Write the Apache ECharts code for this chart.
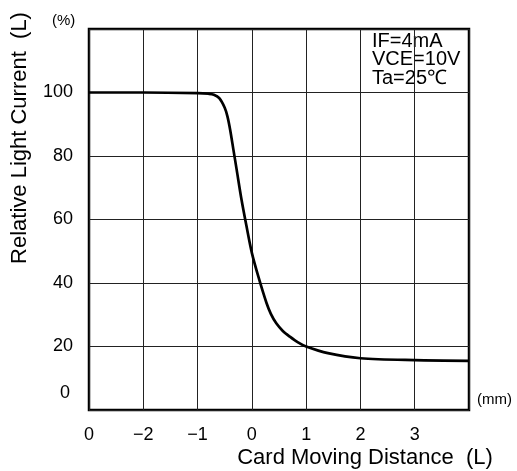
<!DOCTYPE html>
<html>
<head>
<meta charset="utf-8">
<script src="https://cdn.jsdelivr.net/npm/echarts@6/dist/echarts.min.js"></script>
<style>
html,body{margin:0;padding:0;background:#fff;}
#chart{width:517px;height:471px;}
</style>
</head>
<body>
<div id="chart"></div>
<script>
// Data
var distance = [-3, -2, -1, -0.8, -0.7, -0.6, -0.5, -0.45, -0.4, -0.34, -0.28, -0.19, -0.1, 0, 0.12, 0.27, 0.35, 0.45, 0.57, 0.7, 0.85, 1.0, 1.4, 2.0, 3.0, 4.0];
var relCurrent = [100, 100, 99.8, 99.6, 99.3, 98.2, 95.2, 92.5, 88.3, 82, 75.7, 66.2, 58, 49.5, 42, 33.7, 30.3, 27.3, 24.9, 23.1, 21.3, 20, 17.9, 16.3, 15.7, 15.5];
var xTickValues = [-3, -2, -1, 0, 1, 2, 3, 4];
var xTickLabels = ['0', '\u22122', '\u22121', '0', '1', '2', '3', ''];
var yTickValues = [0, 20, 40, 60, 80, 100, 120];
var yTickLabels = ['0', '20', '40', '60', '80', '100', ''];
var conditions = ['IF=4mA', 'VCE=10V', 'Ta=25\u2103'];

var FONT = '"Liberation Sans", Arial, sans-serif';
var chart = echarts.init(document.getElementById('chart'), null, {renderer: 'canvas'});
var seriesData = distance.map(function (d, i) { return [d, relCurrent[i]]; });

chart.setOption({
  animation: false,
  backgroundColor: '#fff',
  grid: {
    left: 89, right: 48, top: 29, bottom: 61,
    show: true, borderColor: '#000', borderWidth: 2.5, backgroundColor: 'transparent'
  },
  xAxis: {
    type: 'value', min: -3, max: 4, interval: 1,
    axisLine: {show: false}, axisTick: {show: false},
    splitLine: {show: true, lineStyle: {color: '#222', width: 1}},
    axisLabel: {
      color: '#000', fontFamily: FONT, fontSize: 18, margin: 16,
      showMinLabel: true, showMaxLabel: true,
      formatter: function (v) {
        var i = xTickValues.indexOf(Math.round(v));
        return i >= 0 ? xTickLabels[i] : '';
      }
    }
  },
  yAxis: {
    type: 'value', min: 0, max: 120, interval: 20,
    axisLine: {show: false}, axisTick: {show: false},
    splitLine: {show: true, lineStyle: {color: '#222', width: 1}},
    axisLabel: {
      color: '#000', fontFamily: FONT, fontSize: 18, margin: 16,
      showMinLabel: true, showMaxLabel: true,
      formatter: function (v) {
        var i = yTickValues.indexOf(Math.round(v));
        if (i < 0) return '';
        if (v === 0) return '{z|' + yTickLabels[i] + '}';
        return yTickLabels[i];
      },
      rich: {
        z: {fontFamily: FONT, fontSize: 18, color: '#000', padding: [0, 3, 34, 0]}
      }
    }
  },
  series: [{
    type: 'line',
    data: seriesData,
    smooth: 0.3,
    showSymbol: false,
    lineStyle: {color: '#000', width: 2.7},
    z: 5
  }],
  graphic: [
    {type: 'text', left: 52, top: 13, style: {text: '(%)', font: '15px ' + FONT, fill: '#000'}},
    {type: 'text', left: 477, top: 392, style: {text: '(mm)', font: '15px ' + FONT, fill: '#000'}},
    {type: 'text', x: 365, y: 458, style: {text: 'Card Moving Distance  (L)', font: '22px ' + FONT, fill: '#000', textAlign: 'center', textVerticalAlign: 'middle'}},
    {type: 'text', x: 20, y: 138, rotation: Math.PI / 2, style: {text: 'Relative Light Current  (L)', font: '22px ' + FONT, fill: '#000', textAlign: 'center', textVerticalAlign: 'middle'}},
    {type: 'text', x: 372, y: 32, style: {text: conditions.join('\n'), font: '20px ' + FONT, lineHeight: 18.5, fill: '#000', textAlign: 'left', textVerticalAlign: 'top'}}
  ]
});
</script>
</body>
</html>
